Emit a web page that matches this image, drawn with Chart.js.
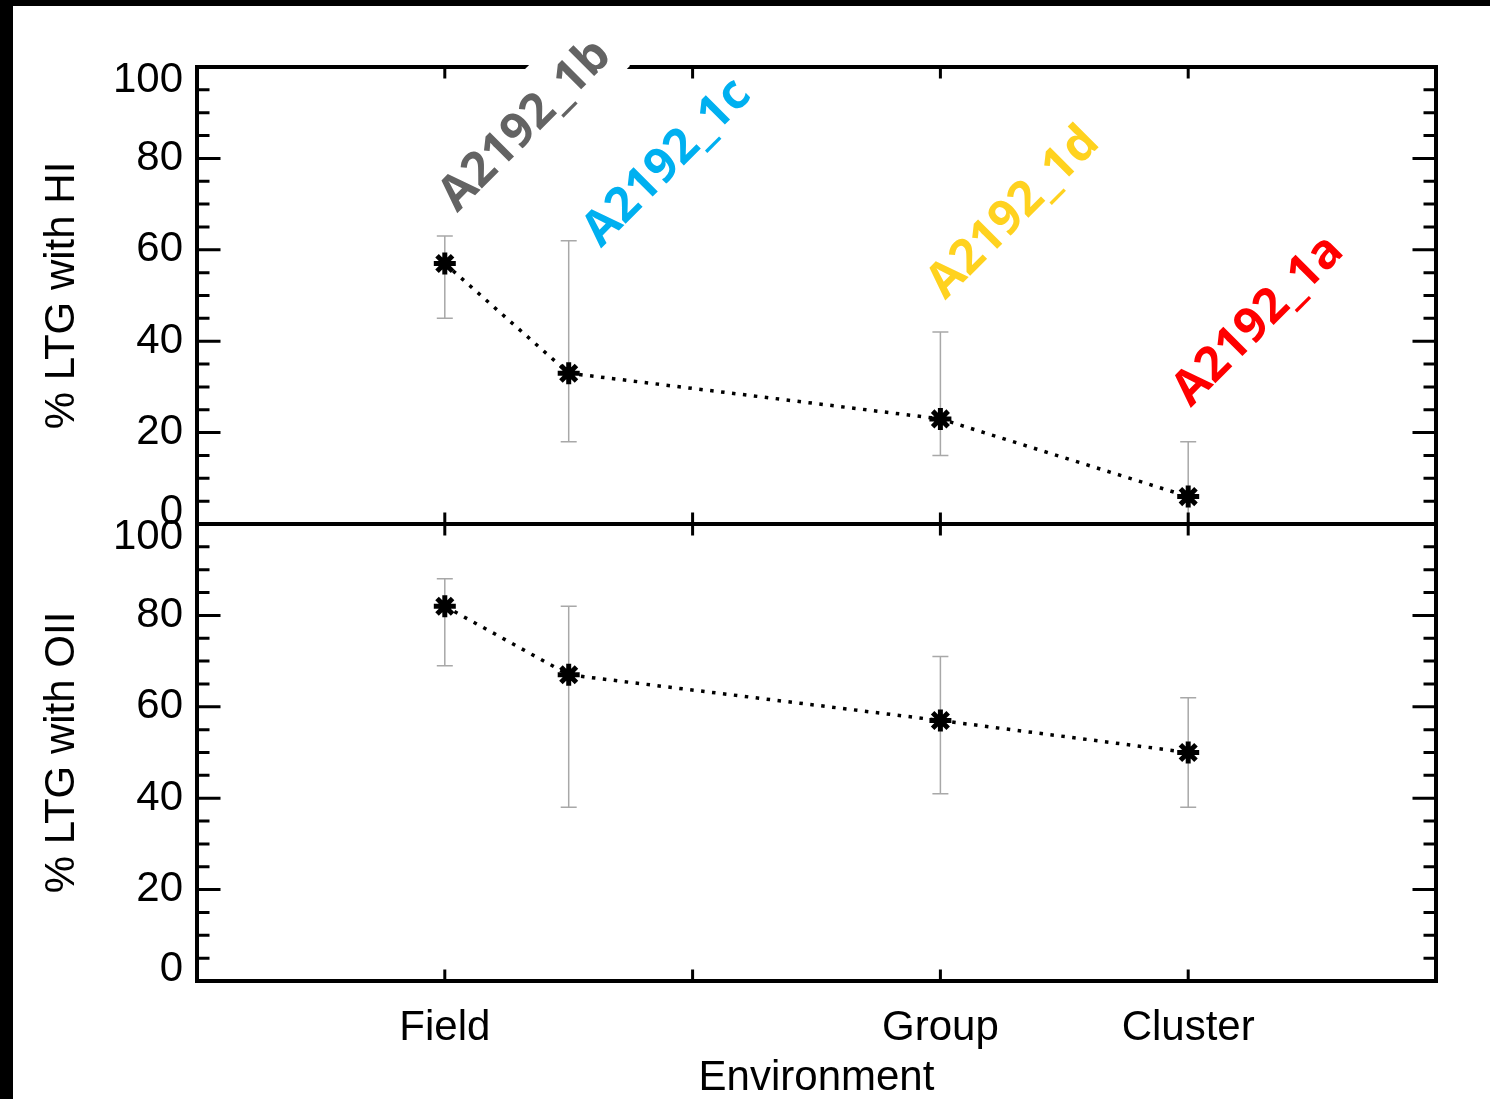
<!DOCTYPE html>
<html lang="en">
<head>
<meta charset="UTF-8">
<title>LTG fraction vs environment</title>
<script src="https://cdn.jsdelivr.net/npm/chart.js"></script>
<style>
    html, body { margin: 0; padding: 0; background: #000; }
    #sheet { position: absolute; left: 13px; top: 6px; width: 1477px; height: 1093px; background: #fff; }
    canvas { display: block; }
</style>
</head>
<body>
<div id="sheet"><canvas id="ltgChart" width="1477" height="1093"></canvas></div>
<script>
// environment axis: tick positions and their labels
const envTicks  = [1, 2, 3, 4];
const envLabels = ['Field', '', 'Group', 'Cluster'];

// position of each measurement along the environment axis
const xPos = [1, 1.5, 3, 4];

// % LTG with HI (top panel) and its error range
const hiPct  = [57, 33, 23, 6];
const hiHigh = [63, 62, 42, 18];
const hiLow  = [45, 18, 15, 0];

// % LTG with OII (bottom panel) and its error range
const oiiPct  = [82, 67, 57, 50];
const oiiHigh = [88, 82, 71, 62];
const oiiLow  = [69, 38, 41, 38];

// cluster names written across the top panel
const clusterNames  = ['A2192_1b', 'A2192_1c', 'A2192_1d', 'A2192_1a'];
const clusterColors = ['#636363', '#00b0f0', '#ffd21f', '#ff0000'];

// where each name starts, in (environment, % HI) units
const clusterAt = [[1.05, 68], [1.63, 60.3], [3.02, 48.9], [4.01, 25.4]];

const axisFont = { family: "'Liberation Sans', Arial, sans-serif", size: 42, lineHeight: 1 };

const toPoints = ys => ys.map((y, i) => ({ x: xPos[i], y: y }));

const lineStyle = {
    showLine: true,
    borderColor: '#000',
    borderWidth: 3.5,
    borderDash: [3.5, 7.5],
    pointStyle: 'star',
    pointRadius: 11,
    pointBorderWidth: 5,
    pointBorderColor: '#000',
    pointBackgroundColor: '#000'
};

function panelScale(title) {
    return {
        type: 'linear',
        position: 'left',
        stack: 'panels',
        stackWeight: 1,
        min: 0,
        max: 100,
        ticks: { stepSize: 20, font: axisFont, color: '#000', padding: 14 },
        grid: { display: false, drawTicks: false },
        border: { display: false },
        title: { display: true, text: title, font: axisFont, color: '#000', padding: { top: 28, bottom: 0 } },
        afterFit: s => { s.width = 184; }
    };
}

// IDL style: first and last tick labels are pulled inside the panel
const edgeLabels = {
    id: 'edgeLabels',
    beforeDraw(chart) {
        ['yHI', 'yOII'].forEach(id => {
            const items = chart.scales[id].getLabelItems();
            const first = items[0], last = items[items.length - 1];
            if (!first._moved) { first.options.translation[1] -= 12; first._moved = true; }
            if (!last._moved) { last.options.translation[1] += 13; last._moved = true; }
        });
    }
};

const errorBars = {
    id: 'errorBars',
    beforeDatasetsDraw(chart) {
        const ctx = chart.ctx;
        const x = chart.scales.x;
        ctx.save();
        ctx.strokeStyle = '#a8a8a8';
        ctx.lineWidth = 1.5;
        chart.data.datasets.forEach(ds => {
            const y = chart.scales[ds.yAxisID];
            ds.data.forEach((p, i) => {
                const px = x.getPixelForValue(p.x);
                const top = y.getPixelForValue(ds.high[i]);
                const bot = y.getPixelForValue(ds.low[i]);
                ctx.beginPath();
                ctx.moveTo(px, top); ctx.lineTo(px, bot);
                ctx.moveTo(px - 8, top); ctx.lineTo(px + 8, top);
                ctx.moveTo(px - 8, bot); ctx.lineTo(px + 8, bot);
                ctx.stroke();
            });
        });
        ctx.restore();
    }
};

const frame = {
    id: 'frame',
    afterDraw(chart) {
        const ctx = chart.ctx;
        const x = chart.scales.x, top = chart.scales.yHI, bot = chart.scales.yOII;
        const L = x.left, R = x.right;
        ctx.save();
        ctx.strokeStyle = '#000';
        ctx.lineCap = 'square';

        ctx.lineWidth = 3;
        [top, bot].forEach(s => {
            for (let v = s.min; v <= s.max; v += 5) {
                const py = s.getPixelForValue(v);
                const len = v % 20 === 0 ? 22 : 11;
                ctx.beginPath();
                ctx.moveTo(L, py); ctx.lineTo(L + len, py);
                ctx.moveTo(R, py); ctx.lineTo(R - len, py);
                ctx.stroke();
            }
        });
        envTicks.forEach(v => {
            const px = x.getPixelForValue(v);
            ctx.beginPath();
            ctx.moveTo(px, top.top); ctx.lineTo(px, top.top + 10);
            ctx.moveTo(px, top.bottom - 10); ctx.lineTo(px, top.bottom + 10);
            ctx.moveTo(px, bot.bottom); ctx.lineTo(px, bot.bottom - 10);
            ctx.stroke();
        });

        ctx.lineWidth = 4;
        ctx.strokeRect(L, top.top, R - L, bot.bottom - top.top);
        ctx.beginPath();
        ctx.moveTo(L, top.bottom); ctx.lineTo(R, top.bottom);
        ctx.stroke();
        ctx.restore();
    }
};

const clusterTags = {
    id: 'clusterTags',
    afterDraw(chart) {
        const ctx = chart.ctx;
        const x = chart.scales.x, y = chart.scales.yHI;
        ctx.save();
        ctx.font = "bold 48px 'Open Sans', sans-serif";
        ctx.textBaseline = 'alphabetic';
        clusterNames.forEach((name, i) => {
            const px = x.getPixelForValue(clusterAt[i][0]);
            const py = y.getPixelForValue(clusterAt[i][1]);
            ctx.save();
            ctx.translate(px, py);
            ctx.rotate(-Math.PI / 4);
            if (i === 0) {
                const w = ctx.measureText(name).width;
                ctx.fillStyle = '#fff';
                ctx.fillRect(-6, -54, w + 12, 72);
            }
            ctx.fillStyle = clusterColors[i];
            ctx.fillText(name, 0, 0);
            ctx.restore();
        });
        ctx.restore();
    }
};

const ctx = document.getElementById('ltgChart').getContext('2d');
new Chart(ctx, {
    type: 'scatter',
    data: {
        datasets: [
            Object.assign({ label: 'HI', data: toPoints(hiPct), yAxisID: 'yHI', high: hiHigh, low: hiLow }, lineStyle),
            Object.assign({ label: 'OII', data: toPoints(oiiPct), yAxisID: 'yOII', high: oiiHigh, low: oiiLow }, lineStyle)
        ]
    },
    options: {
        responsive: false,
        animation: false,
        layout: { padding: { top: 61, right: 54, left: 0, bottom: 0 } },
        plugins: { legend: { display: false }, tooltip: { enabled: false } },
        scales: {
            x: {
                type: 'linear',
                min: 0,
                max: 5,
                afterBuildTicks: s => { s.ticks = envTicks.map(v => ({ value: v })); },
                ticks: {
                    callback: v => envLabels[envTicks.indexOf(v)] || '',
                    font: axisFont, color: '#000', padding: 26, autoSkip: false, maxRotation: 0
                },
                grid: { display: false, drawTicks: false },
                border: { display: false },
                title: { display: true, text: 'Environment', font: axisFont, color: '#000', padding: 0 },
                afterFit: s => { s.height = 118; }
            },
            yOII: panelScale('% LTG with OII'),
            yHI: panelScale('% LTG with HI')
        }
    },
    plugins: [edgeLabels, errorBars, frame, clusterTags]
});
</script>
</body>
</html>
